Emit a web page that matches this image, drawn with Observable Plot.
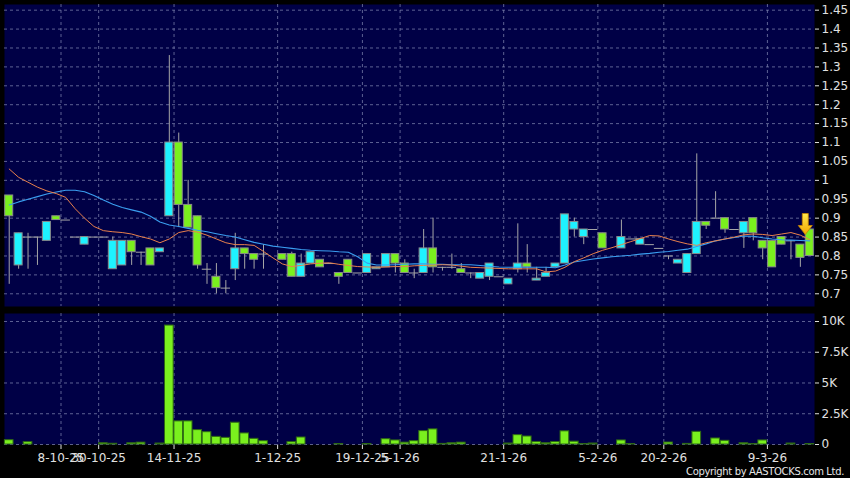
<!DOCTYPE html>
<html>
<head>
<meta charset="utf-8">
<script src="https://cdn.jsdelivr.net/npm/d3@7"></script>
<script src="https://cdn.jsdelivr.net/npm/@observablehq/plot@0.6"></script>
<style>
  html, body { margin: 0; padding: 0; background: #000; }
  #chart { position: relative; width: 850px; height: 478px; background: #000; overflow: hidden; font-family: "DejaVu Sans", sans-serif; }
  #price { position: absolute; left: 0; top: 0; }
  #vol { position: absolute; left: 0; top: 310px; }
  #copy { position: absolute; right: 6px; top: 466px; color: #e6e6e6; font-size: 10px; letter-spacing: -0.35px; white-space: nowrap; line-height: 11px; }
</style>
</head>
<body>
<div id="chart">
  <div id="price"></div>
  <div id="vol"></div>
  <div id="copy">Copyright by AASTOCKS.com Ltd.</div>
</div>
<script>
// ---- data (one entry per trading slot, left to right) ----
const opens  = [0.96,0.775,0.85,0.85,0.84,0.905,0.895,0.85,0.83,0.85,0.85,0.765,0.775,0.84,0.81,0.82,0.81,0.905,1.10,0.935,
                0.905,0.765,0.745,0.715,0.765,0.82,0.805,0.805,null,0.805,0.805,0.745,0.78,0.79,0.78,0.755,0.79,0.755,0.755,0.765,
                0.77,0.805,0.78,0.755,0.755,0.82,0.77,0.77,0.765,0.755,0.74,0.745,0.745,0.725,0.765,0.78,0.735,0.745,0.77,0.78,
                0.87,0.85,0.87,0.86,null,0.82,0.845,0.83,0.83,0.82,0.80,0.78,0.755,0.805,0.89,0.90,0.90,0.87,0.86,0.90,
                0.84,0.84,0.85,0.84,0.83,0.87];
const closes = [0.905,0.86,0.85,0.85,0.89,0.895,0.895,0.85,0.85,0.85,0.85,0.84,0.84,0.81,0.81,0.775,0.82,1.10,0.935,0.875,
                0.775,0.765,0.715,0.715,0.82,0.805,0.79,0.805,null,0.79,0.745,0.78,0.81,0.77,0.78,0.745,0.755,0.755,0.805,0.77,
                0.805,0.78,0.755,0.755,0.82,0.77,0.77,0.77,0.755,0.755,0.755,0.78,0.745,0.74,0.78,0.77,0.74,0.755,0.78,0.91,
                0.89,0.87,0.87,0.82,null,0.85,0.845,0.845,0.83,0.82,0.80,0.79,0.805,0.89,0.88,0.90,0.87,0.87,0.89,0.86,
                0.82,0.77,0.83,0.84,0.795,0.80];
const highs  = [0.96,0.86,0.86,0.85,0.89,0.905,0.895,0.85,0.85,0.85,0.85,0.85,0.84,0.84,0.81,0.82,0.82,1.33,1.125,1.0,
                0.905,0.78,0.78,0.735,0.86,0.82,0.805,0.83,null,0.805,0.81,0.805,0.81,0.79,0.78,0.755,0.79,0.755,0.805,0.77,
                0.805,0.805,0.79,0.765,0.87,0.90,0.77,0.805,0.78,0.755,0.755,0.78,0.745,0.74,0.885,0.83,0.77,0.77,0.78,0.91,
                0.90,0.87,0.87,0.86,null,0.895,0.845,0.845,0.83,0.82,0.80,0.79,0.805,1.07,0.89,0.97,0.90,0.87,0.89,0.90,
                0.84,0.84,0.85,0.84,0.83,0.87];
const lows   = [0.725,0.765,0.765,0.775,0.84,0.895,0.895,0.85,0.83,0.85,0.85,0.765,0.775,0.775,0.775,0.775,0.81,0.905,0.875,0.875,
                0.765,0.725,0.70,0.70,0.735,0.765,0.765,0.765,null,0.79,0.745,0.745,0.78,0.77,0.78,0.725,0.755,0.755,0.755,0.765,
                0.77,0.755,0.755,0.74,0.755,0.755,0.76,0.765,0.755,0.74,0.74,0.735,0.745,0.725,0.755,0.755,0.735,0.745,0.77,0.78,
                0.85,0.83,0.87,0.82,null,0.82,0.845,0.83,0.83,0.82,0.79,0.78,0.755,0.805,0.87,0.90,0.86,0.87,0.82,0.84,
                0.79,0.77,0.83,0.79,0.77,0.80];
const volumes = [350,0,190,0,0,0,0,0,0,0,100,60,0,100,150,0,80,9670,1880,1880,
                 1170,1000,620,540,1770,900,460,270,0,0,190,570,0,0,0,40,0,0,40,0,
                 430,330,150,270,1090,1230,50,100,150,0,0,0,0,80,760,650,200,100,200,1070,
                 230,30,80,0,0,330,30,0,0,0,160,0,50,1030,0,490,300,0,100,30,
                 330,0,0,80,0,40];
const ma10 = [1.03,1.008,0.995,0.982,0.972,0.965,0.955,0.925,0.90,0.878,0.867,0.864,0.862,0.858,0.851,0.845,0.835,0.845,0.862,0.867,
              0.863,0.855,0.845,0.835,0.83,0.83,0.828,0.812,0.795,0.779,0.772,0.775,0.779,0.781,0.782,0.778,0.775,0.772,0.771,0.77,
              0.771,0.772,0.772,0.774,0.775,0.776,0.777,0.776,0.773,0.77,0.769,0.768,0.767,0.766,0.766,0.766,0.766,0.758,0.76,0.77,
              0.785,0.795,0.806,0.815,0.822,0.83,0.838,0.846,0.854,0.853,0.845,0.838,0.832,0.828,0.835,0.84,0.845,0.85,0.856,0.858,
              0.857,0.854,0.858,0.862,0.855,0.843];
const ma20 = [0.935,0.943,0.95,0.957,0.964,0.969,0.974,0.974,0.97,0.96,0.948,0.937,0.928,0.922,0.916,0.905,0.89,0.882,0.878,0.873,
              0.868,0.864,0.859,0.854,0.85,0.843,0.836,0.831,0.826,0.823,0.82,0.817,0.815,0.814,0.813,0.811,0.81,0.798,0.781,0.776,
              0.776,0.777,0.778,0.779,0.779,0.778,0.778,0.777,0.777,0.777,0.775,0.773,0.771,0.77,0.77,0.77,0.77,0.77,0.769,0.776,
              0.784,0.788,0.792,0.795,0.798,0.80,0.802,0.805,0.807,0.81,0.812,0.815,0.818,0.825,0.832,0.84,0.845,0.849,0.853,0.852,
              0.848,0.845,0.843,0.842,0.841,0.84];
const tickSlots  = [5.5, 9.5, 17.5, 28.5, 37.5, 41.5, 52.5, 62.5, 69.5, 80.5];
const tickLabels = ["8-10-25","30-10-25","14-11-25","1-12-25","19-12-25","5-1-26","21-1-26","5-2-26","20-2-26","9-3-26"];
const priceTicks = [0.7,0.75,0.8,0.85,0.9,0.95,1,1.05,1.1,1.15,1.2,1.25,1.3,1.35,1.4,1.45];
const volumeTicks = [0,2500,5000,7500,10000];
const volumeTickLabels = ["0","2.5K","5K","7.5K","10K"];

// ---- styles ----
const NAVY = "#000046";
const GRID = "#7c82ad";
const CYAN = "#1ef2ff";
const GREEN = "#7af01e";
const EDGE = "#8a8a8a";
const WICK = "#a6a6a6";
const ORANGE = "#e8804c";
const BLUE = "#3a9ef0";
const BODY_HALF = 0.425;
const XDOMAIN = [-0.5, opens.length - 0.5];

const slots = d3.range(opens.length);
const candles = slots.filter(i => opens[i] != null).map(i => ({
  i, open: opens[i], close: closes[i], high: highs[i], low: lows[i]
}));
const bodies = candles.filter(d => d.open !== d.close);
const dojis = candles.filter(d => d.open === d.close);
const vols = slots.filter(i => volumes[i] > 0).map(i => ({i, v: volumes[i]}));
const last = candles[candles.length - 1];

const arrowSymbol = {
  draw(context) {
    context.moveTo(0, 5);
    context.lineTo(7, -4);
    context.lineTo(3, -4);
    context.lineTo(3, -16);
    context.lineTo(-3, -16);
    context.lineTo(-3, -4);
    context.lineTo(-7, -4);
    context.closePath();
  }
};

const priceFmt = d => String(+d.toFixed(2));
const commonStyle = {background: "transparent", color: "#e0e0e0", fontFamily: "DejaVu Sans, sans-serif", fontSize: "12px"};

const price = Plot.plot({
  width: 850, height: 310,
  marginTop: 4, marginBottom: 4, marginLeft: 4, marginRight: 36,
  style: commonStyle,
  x: {type: "linear", domain: XDOMAIN, axis: null},
  y: {domain: [0.6664, 1.465], axis: "right", ticks: priceTicks, tickFormat: priceFmt, tickSize: 4, tickPadding: 3, label: null},
  marks: [
    Plot.frame({fill: NAVY}),
    Plot.ruleY(priceTicks, {stroke: GRID, strokeDasharray: "3,3", strokeWidth: 1, strokeOpacity: 0.75}),
    Plot.ruleX(tickSlots, {stroke: GRID, strokeDasharray: "3,3", strokeWidth: 1, strokeOpacity: 0.75}),
    Plot.ruleX(candles, {x: "i", y1: "low", y2: "high", stroke: WICK, strokeWidth: 1}),
    Plot.rect(bodies, {
      x1: d => d.i - BODY_HALF, x2: d => d.i + BODY_HALF,
      y1: "open", y2: "close",
      fill: d => d.close > d.open ? CYAN : GREEN,
      stroke: EDGE, strokeWidth: 1
    }),
    Plot.ruleY(dojis, {x1: d => d.i - 0.5, x2: d => d.i + 0.5, y: "close", stroke: WICK, strokeWidth: 1}),
    Plot.line(slots, {x: d => d, y: d => ma20[d], stroke: BLUE, strokeWidth: 1.1, curve: "linear"}),
    Plot.line(slots, {x: d => d, y: d => ma10[d], stroke: ORANGE, strokeWidth: 1, curve: "linear"}),
    Plot.dot([last], {x: "i", y: "high", symbol: arrowSymbol, r: 5, dx: -4.5, fill: "url(#arrowGrad)", stroke: "#c88400", strokeWidth: 0.8})
  ]
});

// gradient for the marker arrow
const svgSel = d3.select(price.tagName === "svg" ? price : price.querySelector("svg"));
const grad = svgSel.insert("defs", ":first-child").append("linearGradient")
  .attr("id", "arrowGrad").attr("x1", 0).attr("y1", 0).attr("x2", 0).attr("y2", 1);
grad.append("stop").attr("offset", "0%").attr("stop-color", "#ffe84a");
grad.append("stop").attr("offset", "100%").attr("stop-color", "#f5a800");

document.getElementById("price").append(price);

const labelMap = new Map(tickSlots.map((s, k) => [s, tickLabels[k]]));
const volLabelMap = new Map(volumeTicks.map((v, k) => [v, volumeTickLabels[k]]));

const vol = Plot.plot({
  width: 850, height: 168,
  marginTop: 3, marginBottom: 34, marginLeft: 4, marginRight: 36,
  style: commonStyle,
  x: {type: "linear", domain: XDOMAIN, ticks: tickSlots, tickFormat: d => labelMap.get(d), tickSize: 5, tickPadding: 4, label: null},
  y: {domain: [0, 10650], axis: "right", ticks: volumeTicks, tickFormat: d => volLabelMap.get(d), tickSize: 4, tickPadding: 3, label: null},
  marks: [
    Plot.frame({fill: NAVY}),
    Plot.ruleY(volumeTicks, {stroke: GRID, strokeDasharray: "3,3", strokeWidth: 1, strokeOpacity: 0.75}),
    Plot.ruleX(tickSlots, {stroke: GRID, strokeDasharray: "3,3", strokeWidth: 1, strokeOpacity: 0.75}),
    Plot.rect(vols, {x1: d => d.i - 0.46, x2: d => d.i + 0.46, y1: 0, y2: "v", fill: GREEN, stroke: "#2f6a14", strokeWidth: 1})
  ]
});
document.getElementById("vol").append(vol);
</script>
</body>
</html>
